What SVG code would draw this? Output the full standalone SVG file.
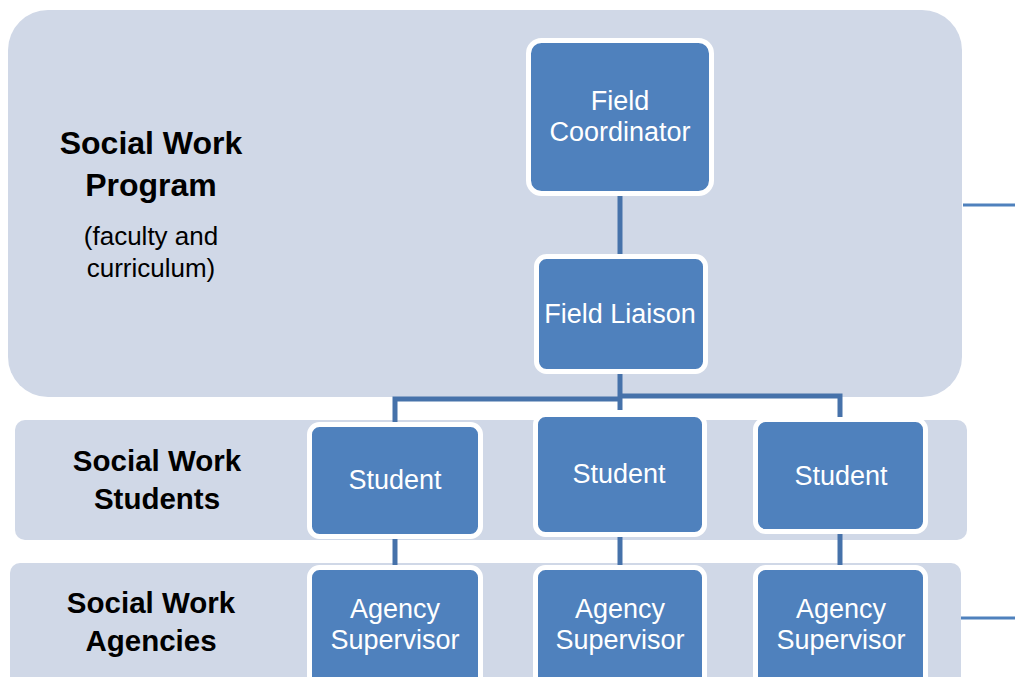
<svg xmlns="http://www.w3.org/2000/svg" width="1015" height="677" viewBox="0 0 1015 677">
<style>
.band{fill:#d0d8e7}
.box{fill:#4f81bd;stroke:#ffffff;stroke-width:5}
.bt{font-family:"Liberation Sans",Arial,sans-serif;font-size:27px;fill:#ffffff;text-anchor:middle}
.lt{font-family:"Liberation Sans",Arial,sans-serif;font-size:32px;font-weight:bold;fill:#000000;text-anchor:middle}
.lt2{font-family:"Liberation Sans",Arial,sans-serif;font-size:29.5px;font-weight:bold;fill:#000000;text-anchor:middle}
.st{font-family:"Liberation Sans",Arial,sans-serif;font-size:26px;fill:#000000;text-anchor:middle}
.ln{stroke:#4672aa;stroke-width:5;fill:none}
.thin{stroke:#4f81bd;stroke-width:3;fill:none}
</style>
<rect width="1015" height="677" fill="#ffffff"/>
<g id="band-program">
<rect class="band" x="8" y="10" width="954" height="387" rx="40"/>
<text class="lt" x="151" y="154">Social Work</text>
<text class="lt" x="151" y="196">Program</text>
<text class="st" x="151" y="245">(faculty and</text>
<text class="st" x="151" y="277">curriculum)</text>
</g>
<g id="band-students">
<rect class="band" x="15" y="420" width="952" height="120" rx="10"/>
<text class="lt2" x="157" y="471">Social Work</text>
<text class="lt2" x="157" y="509">Students</text>
</g>
<g id="band-agencies">
<rect class="band" x="10" y="563" width="951" height="130" rx="10"/>
<text class="lt2" x="151" y="613">Social Work</text>
<text class="lt2" x="151" y="651">Agencies</text>
</g>
<g id="connectors">
<line class="ln" x1="620" y1="194" x2="620" y2="257"/>
<polyline class="ln" points="620,372 620,410"/>
<polyline class="ln" points="395,424 395,399 620,399"/>
<polyline class="ln" points="620,396 840,396 840,420"/>
<line class="ln" x1="395" y1="536" x2="395" y2="568"/>
<line class="ln" x1="620" y1="534" x2="620" y2="568"/>
<line class="ln" x1="840" y1="531" x2="840" y2="568"/>
<line class="thin" x1="963" y1="205" x2="1015" y2="205"/>
<line class="thin" x1="961" y1="618" x2="1015" y2="618"/>
</g>
<g id="field-coordinator">
<rect class="box" x="528.5" y="40.5" width="183" height="153" rx="13"/>
<text class="bt" x="620" y="110">Field</text>
<text class="bt" x="620" y="141">Coordinator</text>
</g>
<g id="field-liaison">
<rect class="box" x="536.5" y="256.5" width="169" height="115" rx="10"/>
<text class="bt" x="620" y="323">Field Liaison</text>
</g>
<g id="student-1">
<rect class="box" x="309.5" y="424.5" width="171" height="112" rx="10"/>
<text class="bt" x="395" y="489">Student</text>
</g>
<g id="student-2">
<rect class="box" x="535.5" y="414.5" width="169" height="120" rx="10"/>
<text class="bt" x="619" y="483">Student</text>
</g>
<g id="student-3">
<rect class="box" x="755.5" y="419.5" width="170" height="112" rx="10"/>
<text class="bt" x="841" y="485">Student</text>
</g>
<g id="agency-1">
<rect class="box" x="309.5" y="567.5" width="171" height="120" rx="10"/>
<text class="bt" x="395" y="618">Agency</text>
<text class="bt" x="395" y="649">Supervisor</text>
</g>
<g id="agency-2">
<rect class="box" x="535.5" y="567.5" width="169" height="120" rx="10"/>
<text class="bt" x="620" y="618">Agency</text>
<text class="bt" x="620" y="649">Supervisor</text>
</g>
<g id="agency-3">
<rect class="box" x="755.5" y="567.5" width="170" height="120" rx="10"/>
<text class="bt" x="841" y="618">Agency</text>
<text class="bt" x="841" y="649">Supervisor</text>
</g>
</svg>
